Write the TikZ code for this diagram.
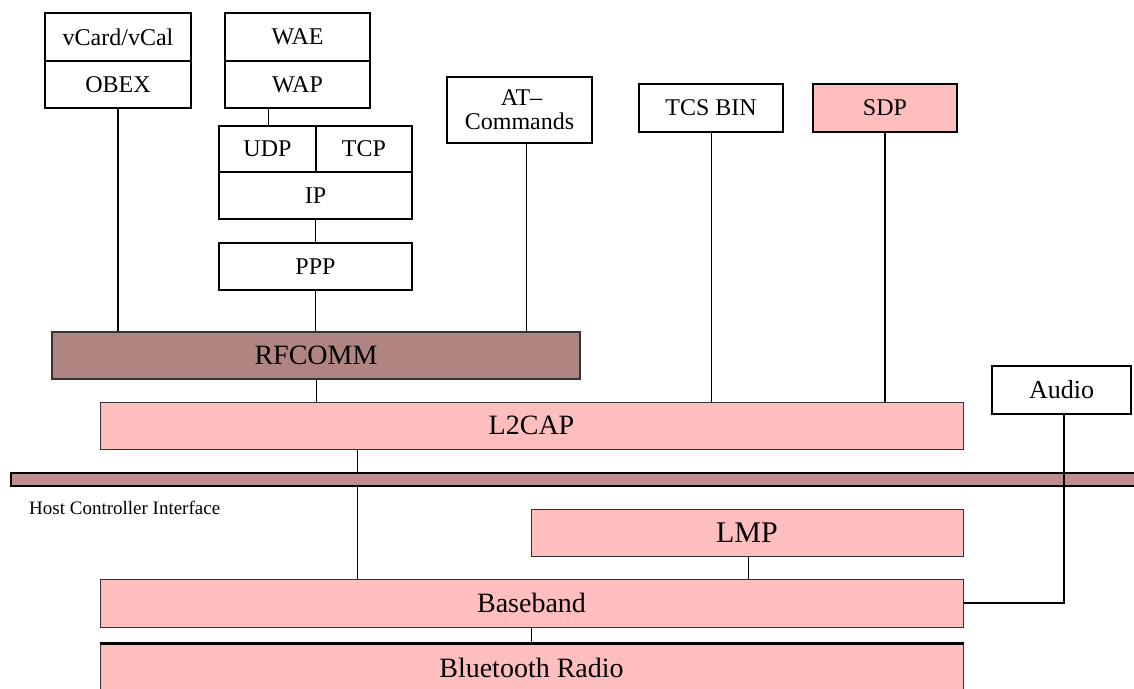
\documentclass[tikz,border=0pt]{standalone}
\usepackage{fontspec}
\setmainfont{Liberation Serif}
\usepackage{tikz}

\definecolor{stackpink}{RGB}{255,190,190}
\definecolor{rfbrown}{RGB}{176,132,128}
\definecolor{hcibrown}{RGB}{190,142,142}

\tikzset{
  proto/.style={draw, line width=2.5pt, fill=white, inner sep=0pt,
                font=\fontsize{24}{24}\selectfont},
  core/.style={draw=black!80, line width=1pt, fill=stackpink, inner sep=0pt,
               font=\fontsize{28}{28}\selectfont},
  thinlink/.style={line width=1pt},
  thicklink/.style={line width=2.5pt},
}

\begin{document}
\begin{tikzpicture}[x=1pt,y=-1pt]
\useasboundingbox (0,0) rectangle (1134,688);
\clip (0,0) rectangle (1134,688);

% upper protocols
\node[proto, minimum width=146pt, minimum height=48pt] (vcard) at (118,37) {vCard/vCal};
\node[proto, minimum width=146pt, minimum height=47pt] (obex) at (118,84.5) {OBEX};
\node[proto, minimum width=145pt, minimum height=48pt] (wae) at (297.5,37) {WAE};
\node[proto, minimum width=145pt, minimum height=47pt] (wap) at (297.5,84.5) {WAP};
\node[proto, minimum width=97pt, minimum height=46pt] (udp) at (267.5,149) {UDP};
\node[proto, minimum width=96pt, minimum height=46pt] (tcp) at (364,149) {TCP};
\node[proto, minimum width=193pt, minimum height=47pt] (ip) at (315.5,195.5) {IP};
\node[proto, minimum width=193pt, minimum height=47pt] (ppp) at (315.5,266.5) {PPP};
\node[proto, minimum width=145pt, minimum height=66pt, align=center,
      font=\fontsize{24}{24}\selectfont] (at) at (519.5,110) {\,AT--\\Commands};
\node[proto, line width=1.8pt, minimum width=144pt, minimum height=48pt] (tcs) at (711,108) {TCS BIN};
\node[proto, line width=1.8pt, fill=stackpink, minimum width=144pt, minimum height=48pt] (sdp) at (885,108) {SDP};
\node[proto, line width=2pt, minimum width=139pt, minimum height=48pt,
      font=\fontsize{26}{26}\selectfont] (audio) at (1061.5,390) {Audio};

% core layers
\node[core, line width=2pt, fill=rfbrown, minimum width=528pt, minimum height=47pt] (rfcomm) at (316,355.5) {RFCOMM};
\node[core, minimum width=863pt, minimum height=47pt] (ltcap) at (531.5,425.5) {L2CAP};
\node[core, minimum width=432pt, minimum height=47pt, font=\fontsize{30}{30}\selectfont] (lmp) at (747,532.5) {LMP};
\node[core, minimum width=863pt, minimum height=48pt] (baseband) at (531.5,603) {Baseband};
\node[core, minimum width=863pt, minimum height=48pt] (radio) at (531.5,668) {Bluetooth Radio};
\draw[line width=3pt] (radio.north west) -- (radio.north east);

% links
\coordinate (attap) at (526,0);
\coordinate (hcitap) at (357,0);
\draw[thicklink] (obex.south) -- (obex.south |- rfcomm.north);
\draw[thinlink] (wap.south -| 268,0) -- (268,0 |- udp.north);
\draw[thinlink] (ip.south) -- (ppp.north);
\draw[thinlink] (ppp.south) -- (ppp.south |- rfcomm.north);
\draw[thinlink] (attap |- at.south) -- (attap |- rfcomm.north);
\draw[thinlink] (rfcomm.south) -- (rfcomm.south |- ltcap.north);
\draw[thinlink] (tcs.south) -- (tcs.south |- ltcap.north);
\draw[thicklink] (sdp.south) -- (sdp.south |- ltcap.north);
\draw[thinlink] (hcitap |- ltcap.south) -- (hcitap |- baseband.north);
\draw[thinlink] (lmp.south -| 748,0) -- (748,0 |- baseband.north);
\draw[thinlink] (baseband.south) -- (radio.north);

% host controller interface
\node[draw, line width=2.2pt, fill=hcibrown, inner sep=0pt,
      minimum width=1140pt, minimum height=13pt] (hci) at (581,479.5) {};
\node[anchor=west, inner sep=0pt, font=\fontsize{19}{19}\selectfont] (hcilabel) at (29,508) {Host Controller Interface};

\draw[thicklink] ([xshift=2.5pt]audio.south) |- (baseband.east);
\end{tikzpicture}
\end{document}
